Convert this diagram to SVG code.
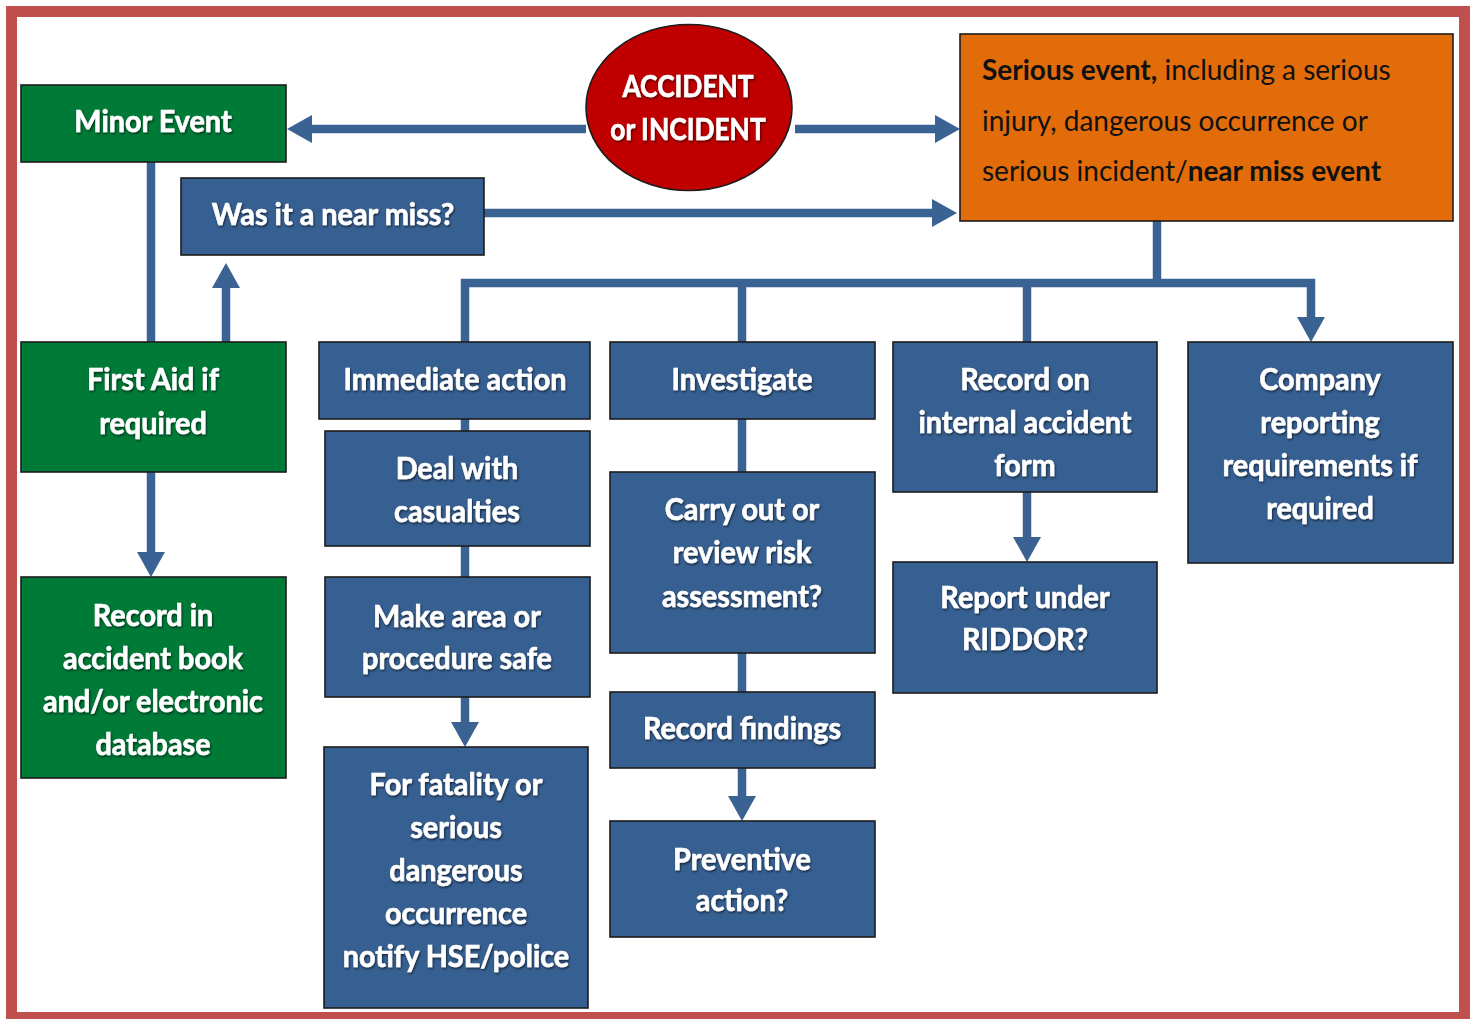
<svg xmlns="http://www.w3.org/2000/svg" width="1472" height="1019" viewBox="0 0 1472 1019">
<defs>
<style>
.box{stroke:#1c1c1c;stroke-width:1.6}
.blue{fill:#376092}
.green{fill:#007a37}
.t{font-family:Lato,"Open Sans","Liberation Sans",sans-serif;font-weight:700;font-size:31px;fill:#fff;stroke:#fff;stroke-width:0.6;text-anchor:middle}
.o{font-family:Lato,"Open Sans","Liberation Sans",sans-serif;font-size:28px;fill:#111}
.c{fill:none;stroke:#3a6293;stroke-width:8.5}
</style>
<marker id="ah" markerUnits="userSpaceOnUse" viewBox="0 0 25 28" refX="0" refY="14" markerWidth="25" markerHeight="28" orient="auto">
<path d="M0,0 L25,14 L0,28 Z" fill="#3a6293"/>
</marker>
<filter id="sh" x="-10%" y="-20%" width="130%" height="150%">
<feDropShadow dx="1" dy="1.5" stdDeviation="1" flood-color="#000" flood-opacity="0.6"/>
</filter>
</defs>
<rect x="0" y="0" width="1472" height="1019" fill="#fff"/>
<rect x="11.5" y="11.5" width="1453" height="1006" fill="none" stroke="#c0504d" stroke-width="11"/>

<g id="connectors">
<path class="c" d="M586,129 H312" marker-end="url(#ah)"/>
<path class="c" d="M795,129 H935" marker-end="url(#ah)"/>
<path class="c" d="M484,213 H932" marker-end="url(#ah)"/>
<path class="c" d="M151,162 V342"/>
<path class="c" d="M226,342 V288" marker-end="url(#ah)"/>
<path class="c" d="M151,472 V552" marker-end="url(#ah)"/>
<path class="c" d="M1157,221 V283"/>
<path class="c" d="M465,342 V283 H1311 V317" marker-end="url(#ah)"/>
<path class="c" d="M742,283 V342"/>
<path class="c" d="M1027,283 V342"/>
<path class="c" d="M465,419 V431"/>
<path class="c" d="M465,546 V577"/>
<path class="c" d="M465,697 V722" marker-end="url(#ah)"/>
<path class="c" d="M742,419 V472"/>
<path class="c" d="M742,653 V692"/>
<path class="c" d="M742,768 V796" marker-end="url(#ah)"/>
<path class="c" d="M1027,492 V537" marker-end="url(#ah)"/>
</g>

<g id="accident">
<ellipse cx="689" cy="107.5" rx="103" ry="83" fill="#c00000" stroke="#1c1c1c" stroke-width="1.6"/>
<text class="t" filter="url(#sh)" transform="translate(688,97) scale(0.85,1)"><tspan x="0">ACCIDENT</tspan><tspan x="0" dy="43">or INCIDENT</tspan></text>
</g>

<g id="minor-event">
<rect class="box green" x="21" y="85" width="265" height="77"/>
<text class="t" filter="url(#sh)" transform="translate(153,132) scale(0.93,1)">Minor Event</text>
</g>

<g id="serious-event">
<rect x="960" y="34" width="493" height="187" fill="#e26b0a" stroke="#1c1c1c" stroke-width="1.6"/>
<text class="o" transform="translate(982,80) scale(1.0,1)"><tspan font-weight="700">Serious event,</tspan> including a serious</text>
<text class="o" transform="translate(982,131) scale(1.0,1)">injury, dangerous occurrence or</text>
<text class="o" transform="translate(982,181) scale(1.0,1)">serious incident/<tspan font-weight="700">near miss event</tspan></text>
</g>

<g id="near-miss">
<rect class="box blue" x="181" y="178" width="303" height="77"/>
<text class="t" filter="url(#sh)" transform="translate(333,225) scale(0.93,1)">Was it a near miss?</text>
</g>

<g id="first-aid">
<rect class="box green" x="21" y="342" width="265" height="130"/>
<text class="t" filter="url(#sh)" transform="translate(153,390) scale(0.93,1)"><tspan x="0">First Aid if</tspan><tspan x="0" dy="44">required</tspan></text>
</g>

<g id="record-book">
<rect class="box green" x="21" y="577" width="265" height="201"/>
<text class="t" filter="url(#sh)" transform="translate(153,626) scale(0.93,1)"><tspan x="0">Record in</tspan><tspan x="0" dy="43">accident book</tspan><tspan x="0" dy="43">and/or electronic</tspan><tspan x="0" dy="43">database</tspan></text>
</g>

<g id="immediate-action">
<rect class="box blue" x="319" y="342" width="271" height="77"/>
<text class="t" filter="url(#sh)" transform="translate(455,390) scale(0.93,1)">Immediate action</text>
</g>

<g id="deal-casualties">
<rect class="box blue" x="325" y="431" width="265" height="115"/>
<text class="t" filter="url(#sh)" transform="translate(457,479) scale(0.93,1)"><tspan x="0">Deal with</tspan><tspan x="0" dy="43">casualties</tspan></text>
</g>

<g id="make-safe">
<rect class="box blue" x="325" y="577" width="265" height="120"/>
<text class="t" filter="url(#sh)" transform="translate(457,627) scale(0.93,1)"><tspan x="0">Make area or</tspan><tspan x="0" dy="42">procedure safe</tspan></text>
</g>

<g id="fatality">
<rect class="box blue" x="324" y="747" width="264" height="261"/>
<text class="t" filter="url(#sh)" transform="translate(456,795) scale(0.93,1)"><tspan x="0">For fatality or</tspan><tspan x="0" dy="43">serious</tspan><tspan x="0" dy="43">dangerous</tspan><tspan x="0" dy="43">occurrence</tspan><tspan x="0" dy="43">notify HSE/police</tspan></text>
</g>

<g id="investigate">
<rect class="box blue" x="610" y="342" width="265" height="77"/>
<text class="t" filter="url(#sh)" transform="translate(742,390) scale(0.93,1)">Investigate</text>
</g>

<g id="risk-assessment">
<rect class="box blue" x="610" y="472" width="265" height="181"/>
<text class="t" filter="url(#sh)" transform="translate(742,520) scale(0.93,1)"><tspan x="0">Carry out or</tspan><tspan x="0" dy="43">review risk</tspan><tspan x="0" dy="44">assessment?</tspan></text>
</g>

<g id="record-findings">
<rect class="box blue" x="610" y="692" width="265" height="76"/>
<text class="t" filter="url(#sh)" transform="translate(742,739) scale(0.93,1)">Record findings</text>
</g>

<g id="preventive-action">
<rect class="box blue" x="610" y="821" width="265" height="116"/>
<text class="t" filter="url(#sh)" transform="translate(742,870) scale(0.93,1)"><tspan x="0">Preventive</tspan><tspan x="0" dy="41">action?</tspan></text>
</g>

<g id="record-internal">
<rect class="box blue" x="893" y="342" width="264" height="150"/>
<text class="t" filter="url(#sh)" transform="translate(1025,390) scale(0.93,1)"><tspan x="0">Record on</tspan><tspan x="0" dy="43">internal accident</tspan><tspan x="0" dy="43">form</tspan></text>
</g>

<g id="riddor">
<rect class="box blue" x="893" y="562" width="264" height="131"/>
<text class="t" filter="url(#sh)" transform="translate(1025,608) scale(0.93,1)"><tspan x="0">Report under</tspan><tspan x="0" dy="42">RIDDOR?</tspan></text>
</g>

<g id="company-reporting">
<rect class="box blue" x="1188" y="342" width="265" height="221"/>
<text class="t" filter="url(#sh)" transform="translate(1320,390) scale(0.93,1)"><tspan x="0">Company</tspan><tspan x="0" dy="43">reporting</tspan><tspan x="0" dy="43">requirements if</tspan><tspan x="0" dy="43">required</tspan></text>
</g>
</svg>
